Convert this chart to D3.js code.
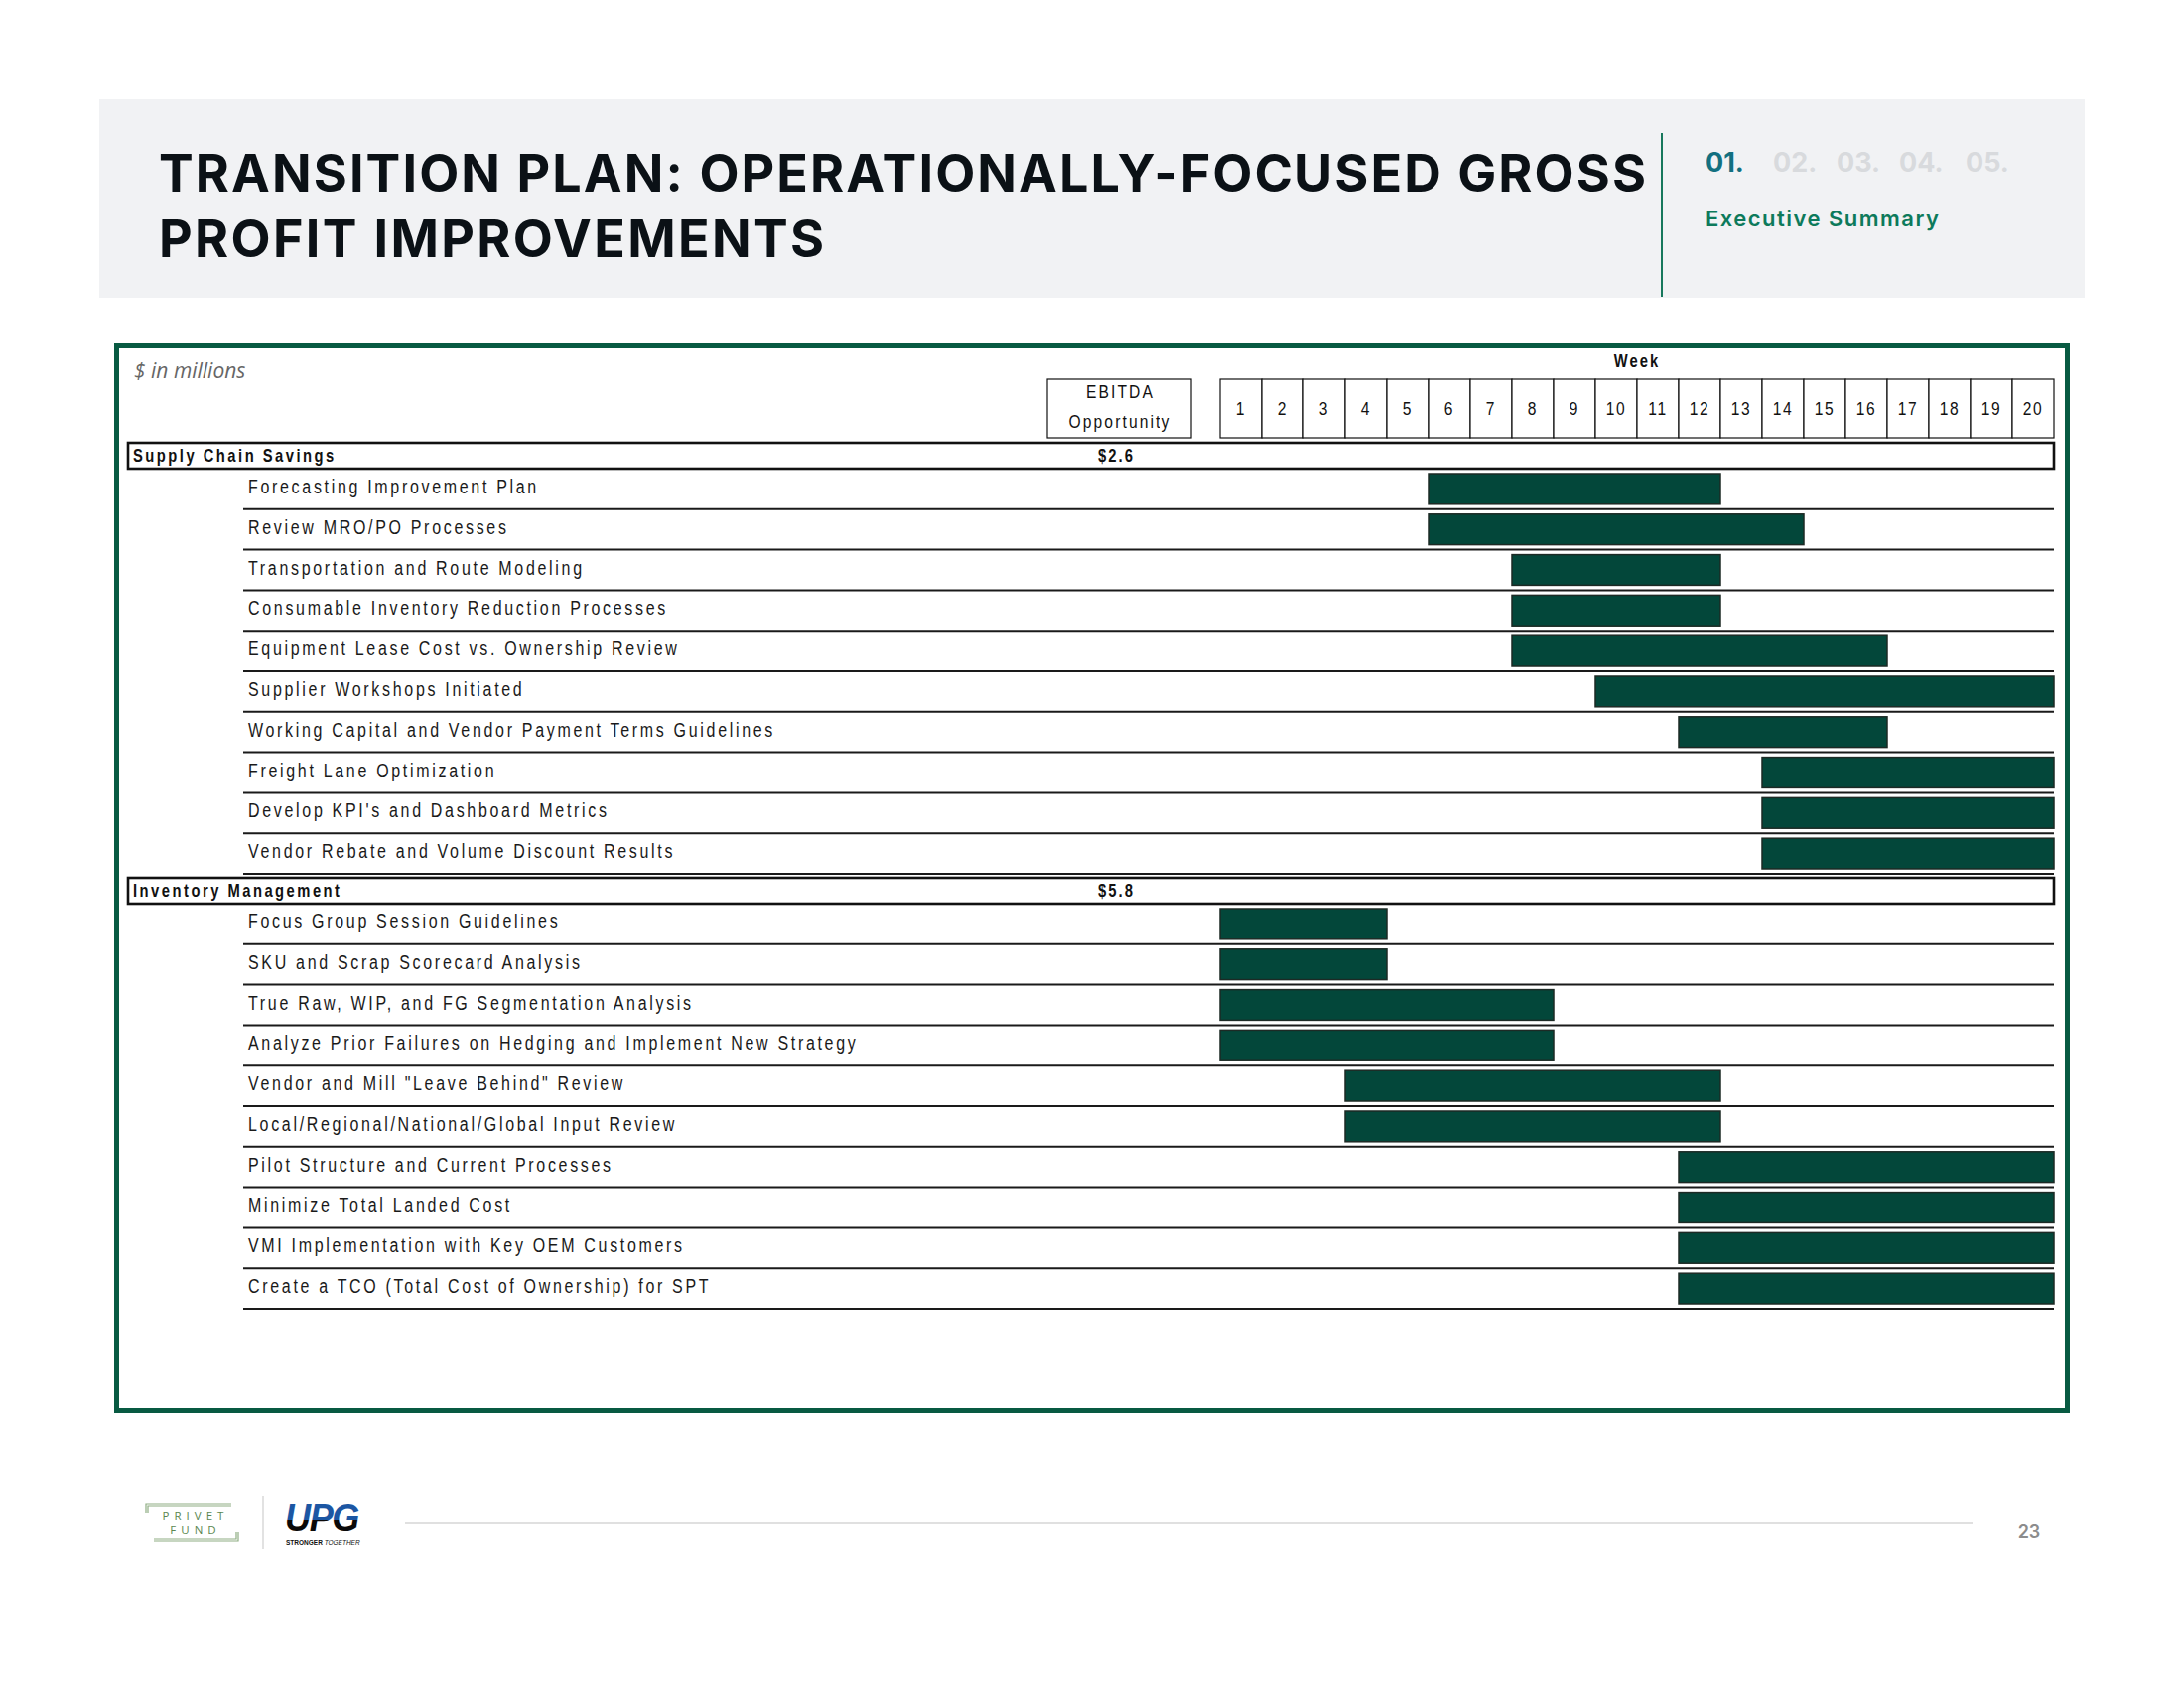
<!DOCTYPE html>
<html>
<head>
<meta charset="utf-8">
<script src="https://cdn.jsdelivr.net/npm/d3@7"></script>
<style>
  html, body { margin: 0; padding: 0; background: #ffffff; }
  svg { display: block; }
</style>
</head>
<body>
<svg id="chart" width="2200" height="1700"></svg>
<script>
// ---------------- DATA ----------------
const titleLines = ["TRANSITION PLAN: OPERATIONALLY-FOCUSED GROSS", "PROFIT IMPROVEMENTS"];
const navNumbers = ["01.", "02.", "03.", "04.", "05."];
const navLabel = "Executive Summary";
const unitsNote = "$ in millions";
const weekTitle = "Week";
const ebitdaHeader = ["EBITDA", "Opportunity"];
const weekLabels = ["1","2","3","4","5","6","7","8","9","10","11","12","13","14","15","16","17","18","19","20"];

const sectionNames = ["Supply Chain Savings", "Inventory Management"];
const sectionEbitda = ["$2.6", "$5.8"];

const supplyTasks = [
  "Forecasting Improvement Plan",
  "Review MRO/PO Processes",
  "Transportation and Route Modeling",
  "Consumable Inventory Reduction Processes",
  "Equipment Lease Cost vs. Ownership Review",
  "Supplier Workshops Initiated",
  "Working Capital and Vendor Payment Terms Guidelines",
  "Freight Lane Optimization",
  "Develop KPI's and Dashboard Metrics",
  "Vendor Rebate and Volume Discount Results"
];
const supplyStart = ["6","6","8","8","8","10","12","14","14","14"];
const supplyEnd   = ["12","14","12","12","16","20","16","20","20","20"];

const inventoryTasks = [
  "Focus Group Session Guidelines",
  "SKU and Scrap Scorecard Analysis",
  "True Raw, WIP, and FG Segmentation Analysis",
  "Analyze Prior Failures on Hedging and Implement New Strategy",
  'Vendor and Mill "Leave Behind" Review',
  "Local/Regional/National/Global Input Review",
  "Pilot Structure and Current Processes",
  "Minimize Total Landed Cost",
  "VMI Implementation with Key OEM Customers",
  "Create a TCO (Total Cost of Ownership) for SPT"
];
const inventoryStart = ["1","1","1","1","4","4","12","12","12","12"];
const inventoryEnd   = ["4","4","8","8","12","12","20","20","20","20"];

const pageNumber = "23";

// ---------------- STYLE ----------------
const ARIAL = "'Liberation Sans', Arial, sans-serif";
const SQ = 0.82; // horizontal squeeze to emulate a narrow face
const HEAD = "Inter, 'Open Sans', sans-serif";
const BAR_FILL = "#03473a";
const FRAME = "#085a42";

const svg = d3.select("#chart");

function measure(str, size, weight) {
  const t = svg.append("text").attr("font-family", ARIAL).attr("font-size", size)
    .attr("font-weight", weight).text(str);
  const w = t.node().getComputedTextLength();
  t.remove();
  return w;
}
function spacingFor(str, size, weight, target) {
  return (target / SQ - measure(str, size, weight)) / str.length;
}
function narrow(sel, xf, yf) {
  return sel.attr("x", 0).attr("y", 0)
    .attr("transform", (d, i) => `translate(${xf(d, i)},${yf(d, i)}) scale(${SQ},1)`)
    .attr("font-family", ARIAL);
}

// ---------------- HEADER ----------------
svg.append("rect").attr("x", 100).attr("y", 100).attr("width", 2000).attr("height", 200).attr("fill", "#f1f2f4");

const titleTargets = [1498, 670];
titleLines.forEach((t, i) => {
  const el = svg.append("text")
    .attr("x", 160).attr("y", 193 + i * 66)
    .attr("font-family", HEAD).attr("font-weight", 700)
    .attr("font-size", 52).attr("fill", "#0b1116")
    .text(t);
  const L = el.node().getComputedTextLength();
  el.attr("letter-spacing", (titleTargets[i] - L) / (t.length - 1));
});

svg.append("line").attr("x1", 1674).attr("x2", 1674).attr("y1", 134).attr("y2", 299)
  .attr("stroke", "#17785c").attr("stroke-width", 2);

const navX = [1718, 1786, 1850, 1913, 1980];
svg.append("g").selectAll("text").data(navNumbers).join("text")
  .attr("x", (d, i) => navX[i]).attr("y", 173)
  .attr("font-family", HEAD).attr("font-weight", 700).attr("font-size", 27)
  .attr("fill", (d, i) => i === 0 ? "#137080" : "#d8dadd")
  .text(d => d);

const nav = svg.append("text").attr("x", 1718).attr("y", 228)
  .attr("font-family", HEAD).attr("font-weight", 600).attr("font-size", 22)
  .attr("fill", "#0d7a5b").text(navLabel);
{
  const L = nav.node().getComputedTextLength();
  nav.attr("letter-spacing", (235 - L) / (navLabel.length - 1));
}

// ---------------- FRAME ----------------
svg.append("rect").attr("x", 117.5).attr("y", 347.5).attr("width", 1965).attr("height", 1073)
  .attr("fill", "#ffffff").attr("stroke", FRAME).attr("stroke-width", 5);

svg.append("text").attr("x", 135).attr("y", 381)
  .attr("font-family", "'Open Sans', sans-serif").attr("font-style", "italic").attr("font-weight", 400)
  .attr("font-size", 21).attr("fill", "#666666").text(unitsNote);

// ---------------- SCALES ----------------
const x = d3.scaleBand().domain(weekLabels).range([1229, 2069]).paddingInner(0).paddingOuter(0);
const ROW_H = 40.8;
const SEC_H = 26;
const sectionTop = [446, 884];
const sectionTasks = [supplyTasks, inventoryTasks];
const sectionStart = [supplyStart, inventoryStart];
const sectionEnd = [supplyEnd, inventoryEnd];

const taskLS = spacingFor(supplyTasks[0], 19.5, 400, 293);
const secLS = spacingFor(sectionNames[0], 18, 700, 205);

// week header
narrow(svg.append("text").datum(weekTitle), () => (x("1") + x("20") + x.bandwidth()) / 2, () => 370)
  .attr("text-anchor", "middle").attr("font-weight", 700)
  .attr("font-size", 18).attr("letter-spacing", 2.5).attr("fill", "#111").text(d => d);

const weekG = svg.append("g");
weekG.selectAll("rect").data(weekLabels).join("rect")
  .attr("x", d => x(d)).attr("y", 382).attr("width", x.bandwidth()).attr("height", 59)
  .attr("fill", "#fff").attr("stroke", "#111").attr("stroke-width", 1.2);
narrow(weekG.selectAll("text").data(weekLabels).join("text"),
       d => x(d) + x.bandwidth() / 2, () => 418)
  .attr("text-anchor", "middle").attr("font-size", 19)
  .attr("letter-spacing", 2).attr("fill", "#111").text(d => d);

// EBITDA header box
const ebX0 = 1055, ebX1 = 1200, ebCx = (ebX0 + ebX1) / 2;
svg.append("rect").attr("x", ebX0).attr("y", 382).attr("width", ebX1 - ebX0).attr("height", 59)
  .attr("fill", "#fff").attr("stroke", "#111").attr("stroke-width", 1.2);
narrow(svg.append("g").selectAll("text").data(ebitdaHeader).join("text"),
       () => ebCx + 1, (d, i) => 401 + i * 30)
  .attr("text-anchor", "middle").attr("font-size", 19)
  .attr("letter-spacing", 2.6).attr("fill", "#111").text(d => d);

// ---------------- SECTIONS ----------------
sectionNames.forEach((name, s) => {
  const top = sectionTop[s];
  const g = svg.append("g");
  g.append("rect").attr("x", 129).attr("y", top).attr("width", 2069 - 129).attr("height", SEC_H)
    .attr("fill", "none").attr("stroke", "#111").attr("stroke-width", 2.6);
  narrow(g.append("text").datum(name), () => 134, () => top + 19)
    .attr("font-weight", 700).attr("font-size", 18)
    .attr("letter-spacing", secLS).attr("fill", "#111").text(d => d);
  narrow(g.append("text").datum(sectionEbitda[s]), () => ebCx - 3, () => top + 19)
    .attr("text-anchor", "middle").attr("font-weight", 700).attr("font-size", 18)
    .attr("letter-spacing", 2.5).attr("fill", "#111").text(d => d);

  const tasks = sectionTasks[s];
  const y = d3.scaleBand().domain(tasks)
    .range([top + SEC_H, top + SEC_H + tasks.length * ROW_H]).paddingInner(0).paddingOuter(0);

  g.append("g").selectAll("line").data(tasks).join("line")
    .attr("x1", 245).attr("x2", 2069)
    .attr("y1", d => y(d) + y.bandwidth()).attr("y2", d => y(d) + y.bandwidth())
    .attr("stroke", "#1a1a1a").attr("stroke-width", 2);

  narrow(g.append("g").selectAll("text").data(tasks).join("text"),
         () => 250, d => y(d) + 25)
    .attr("font-size", 19.5).attr("letter-spacing", taskLS)
    .attr("fill", "#1a1a1a").text(d => d);

  const bars = tasks.map((t, i) => ({ task: t, start: sectionStart[s][i], end: sectionEnd[s][i] }));
  g.append("g").selectAll("rect").data(bars).join("rect")
    .attr("x", d => x(d.start))
    .attr("width", d => x(d.end) + x.bandwidth() - x(d.start))
    .attr("y", d => y(d.task) + 5)
    .attr("height", y.bandwidth() - 10)
    .attr("fill", BAR_FILL).attr("stroke", "#1d2a25").attr("stroke-width", 1.5);
});

// ---------------- FOOTER ----------------
const foot = svg.append("g");
const pg = foot.append("g").attr("stroke", "#8fae84").attr("fill", "none").attr("stroke-width", 1.2);
pg.append("path").attr("d", "M147,1524 V1515 H233");
pg.append("path").attr("d", "M149,1524 V1517 H233");
pg.append("path").attr("d", "M155,1552 H240 V1543");
pg.append("path").attr("d", "M155,1550 H238 V1543");
foot.append("text").attr("x", 197).attr("y", 1531).attr("text-anchor", "middle")
  .attr("font-family", "'Open Sans', sans-serif").attr("font-size", 11.5).attr("letter-spacing", 5)
  .attr("fill", "#5a8750").text("PRIVET");
foot.append("text").attr("x", 197).attr("y", 1545).attr("text-anchor", "middle")
  .attr("font-family", "'Open Sans', sans-serif").attr("font-size", 11.5).attr("letter-spacing", 5)
  .attr("fill", "#5a8750").text("FUND");
foot.append("line").attr("x1", 265).attr("x2", 265).attr("y1", 1507).attr("y2", 1560)
  .attr("stroke", "#d8d8d8").attr("stroke-width", 1.5);

// UPG logo: one text with a two-tone vertical gradient (local coordinates)
const defs = svg.append("defs");
const grad = defs.append("linearGradient").attr("id", "upgGrad")
  .attr("gradientUnits", "userSpaceOnUse").attr("x1", 0).attr("x2", 0).attr("y1", -28).attr("y2", 0);
grad.append("stop").attr("offset", "0.6").attr("stop-color", "#1c56a3");
grad.append("stop").attr("offset", "0.6").attr("stop-color", "#0a0a0a");
foot.append("text").attr("x", 0).attr("y", 0)
  .attr("transform", "translate(287,1542) scale(0.95,1)")
  .attr("font-family", ARIAL).attr("font-weight", 700).attr("font-style", "italic")
  .attr("font-size", 38).attr("letter-spacing", -1.5).attr("fill", "url(#upgGrad)").text("UPG");
foot.append("text").attr("x", 288).attr("y", 1556)
  .attr("font-family", ARIAL).attr("font-weight", 700).attr("font-size", 6.5).attr("fill", "#111")
  .text("STRONGER ").append("tspan").attr("font-style", "italic").attr("font-weight", 400).text("TOGETHER");

foot.append("line").attr("x1", 408).attr("x2", 1987).attr("y1", 1534).attr("y2", 1534)
  .attr("stroke", "#d6d6d6").attr("stroke-width", 1.5);
foot.append("text").attr("x", 2044).attr("y", 1549).attr("text-anchor", "middle")
  .attr("font-family", HEAD).attr("font-weight", 600).attr("font-size", 18).attr("fill", "#8c8c8c")
  .text(pageNumber);
</script>
</body>
</html>
